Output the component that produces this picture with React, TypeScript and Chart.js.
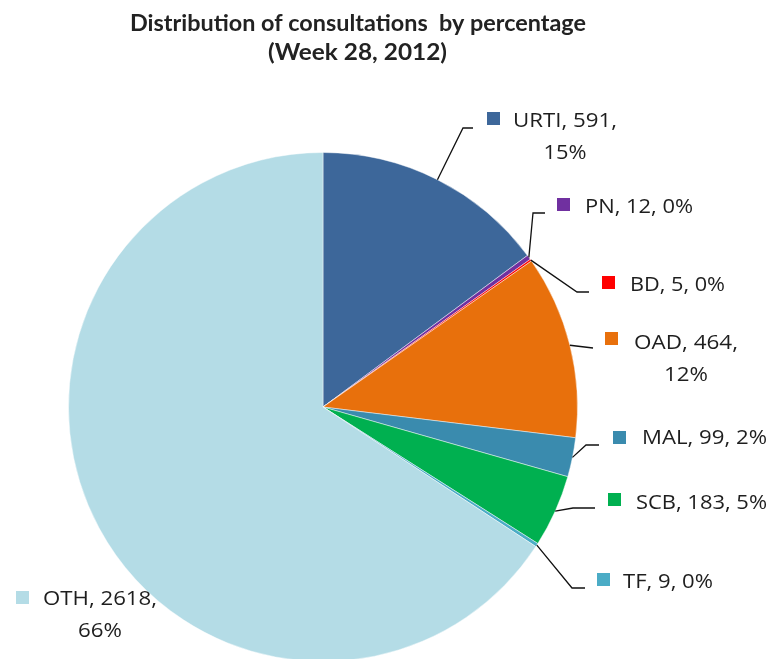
import React, { useEffect, useRef } from "react";
import { Chart, registerables } from "chart.js";

Chart.register(...registerables);

// ---- data ----
const categories = ["URTI", "PN", "BD", "OAD", "MAL", "SCB", "TF", "OTH"];
const consultations = [591, 12, 5, 464, 99, 183, 9, 2618];
const sliceColors = ["#3D679A", "#7030A0", "#FF0000", "#E8700C", "#3A8BAE", "#00B050", "#4BACC6", "#B4DCE6"];
const titleLines = ["Distribution of consultations  by percentage", "(Week 28, 2012)"];

// ---- label layout (positions only) ----
type LabelLayout = {
  elbow: [number, number] | null;
  end: [number, number] | null;
  box: [number, number];
  text: [number, number];
  widths: number[];
  wrap: boolean;
};
const labelLayout: LabelLayout[] = [
  { elbow: [463, 128], end: [473, 128], box: [487, 112], text: [513, 127], widths: [104, 43], wrap: true },
  { elbow: [533, 213], end: [545, 213], box: [557, 198], text: [585, 213], widths: [108], wrap: false },
  { elbow: [577, 292], end: [589, 292], box: [602, 276], text: [630, 291], widths: [95], wrap: false },
  { elbow: null, end: [593, 348], box: [605, 332], text: [634, 349], widths: [104, 44], wrap: true },
  { elbow: [586, 445], end: [599, 445], box: [613, 431], text: [642, 444], widths: [125], wrap: false },
  { elbow: [573, 508], end: [595, 508], box: [608, 493], text: [636, 509], widths: [131], wrap: false },
  { elbow: [572, 588], end: [585, 588], box: [597, 573], text: [623, 588], widths: [90], wrap: false },
  { elbow: null, end: null, box: [16, 591], text: [43, 605], widths: [114, 44], wrap: true },
];

function drawFit(ctx: CanvasRenderingContext2D, text: string, left: number, baseline: number, width: number) {
  const w = ctx.measureText(text).width;
  const s = w > 0 ? width / w : 1;
  ctx.save();
  ctx.translate(left, baseline);
  ctx.scale(s, 1);
  ctx.fillText(text, 0, 0);
  ctx.restore();
}

const labelPlugin = {
  id: "excelLabels",
  afterDraw(chart: any) {
    const ctx: CanvasRenderingContext2D = chart.ctx;
    const total = consultations.reduce((a, b) => a + b, 0);
    // title
    ctx.save();
    ctx.fillStyle = "#222222";
    ctx.textAlign = "left";
    ctx.textBaseline = "alphabetic";
    ctx.font = "bold 22px Lato";
    drawFit(ctx, titleLines[0], 130, 31, 456);
    drawFit(ctx, titleLines[1], 268, 60, 179);
    ctx.restore();

    const meta = chart.getDatasetMeta(0);
    meta.data.forEach((arc: any, i: number) => {
      const L = labelLayout[i];
      const p = arc.getProps(["x", "y", "startAngle", "endAngle", "outerRadius"], true);
      const mid = (p.startAngle + p.endAngle) / 2;
      const sx = p.x + Math.cos(mid) * p.outerRadius;
      const sy = p.y + Math.sin(mid) * p.outerRadius;
      ctx.save();
      if (L.end) {
        ctx.strokeStyle = "#111111";
        ctx.lineWidth = 1.3;
        ctx.beginPath();
        ctx.moveTo(sx, sy);
        if (L.elbow) ctx.lineTo(L.elbow[0], L.elbow[1]);
        ctx.lineTo(L.end[0], L.end[1]);
        ctx.stroke();
      }
      ctx.fillStyle = sliceColors[i];
      ctx.fillRect(L.box[0], L.box[1], 13, 13);

      const pct = Math.round((consultations[i] / total) * 100) + "%";
      const lines = L.wrap
        ? [`${categories[i]}, ${consultations[i]},`, pct]
        : [`${categories[i]}, ${consultations[i]}, ${pct}`];
      ctx.fillStyle = "#1E1E1E";
      ctx.font = "20px 'Open Sans'";
      ctx.textAlign = "left";
      ctx.textBaseline = "alphabetic";
      const centre = L.text[0] + L.widths[0] / 2;
      lines.forEach((t, k) => {
        const w = L.widths[k];
        const left = k === 0 ? L.text[0] : centre - w / 2;
        drawFit(ctx, t, left, L.text[1] + k * 32, w);
      });
      ctx.restore();
    });
  },
};

export default function App() {
  const ref = useRef<HTMLCanvasElement | null>(null);
  useEffect(() => {
    if (!ref.current) return;
    const chart = new Chart(ref.current, {
      type: "pie",
      data: {
        labels: categories,
        datasets: [
          {
            data: consultations,
            backgroundColor: sliceColors,
            borderColor: "rgba(255,255,255,0.45)",
            borderWidth: 1,
          },
        ],
      },
      options: {
        responsive: false,
        animation: false,
        devicePixelRatio: 1,
        layout: { padding: { left: 68, right: 191, top: 152, bottom: 8 } },
        plugins: {
          legend: { display: false },
          tooltip: { enabled: false },
          title: { display: false },
        },
      },
      plugins: [labelPlugin],
    });
    return () => chart.destroy();
  }, []);
  return (
    <div style={{ position: "absolute", left: 0, top: 0, width: 769, height: 659, overflow: "hidden", background: "#fff" }}>
      <canvas ref={ref} width={769} height={670} />
    </div>
  );
}
